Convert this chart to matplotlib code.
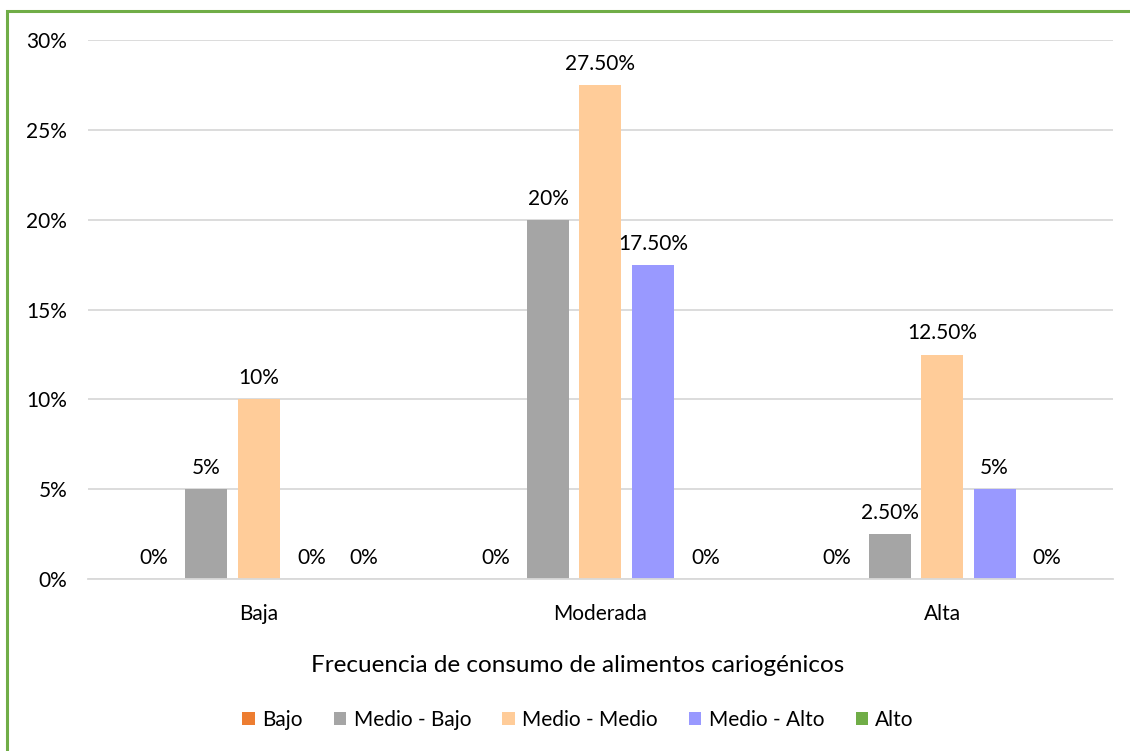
import numpy as np
import matplotlib.pyplot as plt
from matplotlib.patches import Rectangle

# categorias del eje x y series por nivel
categorias = ["Baja", "Moderada", "Alta"]
series = ["Bajo", "Medio - Bajo", "Medio - Medio", "Medio - Alto", "Alto"]
bajo = [0, 0, 0]
medio_bajo = [5, 20, 2.5]
medio_medio = [10, 27.5, 12.5]
medio_alto = [0, 17.5, 5]
alto = [0, 0, 0]
colores = ["#ED7D31", "#A5A5A5", "#FFCC99", "#9999FF", "#70AD47"]
yticks = [0, 5, 10, 15, 20, 25, 30]

plt.rcParams['font.family'] = ['Lato', 'DejaVu Sans']

fig = plt.figure(figsize=(11.3, 7.51), dpi=100)
ax = fig.add_axes([0.0779, 0.229, 0.907, 0.7175])

x = np.arange(len(categorias))
ancho = 0.123
paso = 0.1537
valores = [bajo, medio_bajo, medio_medio, medio_alto, alto]

def etiqueta(v):
    if float(v).is_integer():
        return f"{int(v)}%"
    return f"{v:.2f}%"

for i, (nombre, vals, col) in enumerate(zip(series, valores, colores)):
    barras = ax.bar(x + (i - 2) * paso, vals, ancho, color=col, label=nombre, zorder=3)
    ax.bar_label(barras, labels=[etiqueta(v) for v in vals], padding=8,
                 fontsize=15, color="#000000")

ax.set_xlim(-0.5, 2.5)
ax.set_ylim(0, 30)
ax.set_yticks(yticks)
ax.set_yticklabels([f"{t}%" for t in yticks])
ax.set_xticks(x)
ax.set_xticklabels(categorias)
ax.tick_params(axis="both", length=0, labelsize=15, colors="#000000")
ax.tick_params(axis="x", pad=18)
ax.tick_params(axis="y", pad=15)
ax.grid(axis="y", color="#D9D9D9", linewidth=1.3, zorder=0)
for s in ["top", "right", "left"]:
    ax.spines[s].set_visible(False)
ax.spines["bottom"].set_color("#D9D9D9")
ax.spines["bottom"].set_linewidth(1.3)
ax.spines["bottom"].set_zorder(4)

fig.text(578 / 1130, 1 - 666 / 751, "Frecuencia de consumo de alimentos cariogénicos",
         ha="center", va="center", fontsize=17.5)

fig.legend(loc="center", bbox_to_anchor=(578 / 1130, 1 - 720 / 751), ncol=5,
           frameon=False, fontsize=15, handlelength=0.6, handleheight=0.6,
           handletextpad=0.35, columnspacing=1.5)

# marco verde del grafico
fig.patches.append(Rectangle((7 / 1130, -0.05), 1.2, 1 - 11 / 751 + 0.05,
                             transform=fig.transFigure, fill=False,
                             edgecolor="#70AD47", linewidth=2.2))

fig.savefig("out.png", dpi=100)
